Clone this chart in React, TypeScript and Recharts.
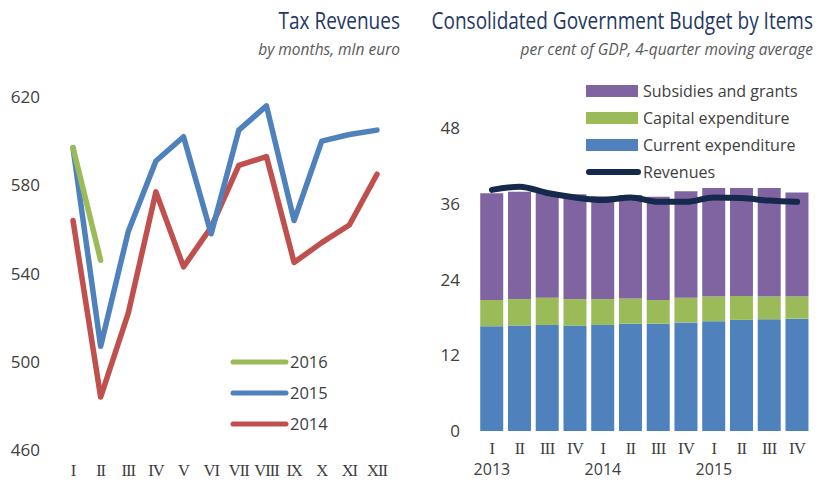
import { LineChart, Line, XAxis, YAxis, Legend, ComposedChart, Bar } from 'recharts';

// Tax revenues, mln euro, by month
const months = ['I', 'II', 'III', 'IV', 'V', 'VI', 'VII', 'VIII', 'IX', 'X', 'XI', 'XII'];
const tax2014 = [564, 484, 522, 577, 543, 561, 589, 593, 545, 554, 562, 585];
const tax2015 = [597, 507, 559, 591, 602, 558, 605, 616, 564, 600, 603, 605];
const tax2016 = [597, 546];
const taxTicks = [460, 500, 540, 580, 620];

// Consolidated budget, % of GDP, 4-quarter moving average
const quarters = ['I', 'II', 'III', 'IV', 'I', 'II', 'III', 'IV', 'I', 'II', 'III', 'IV'];
const years = ['2013', '', '', '', '2014', '', '', '', '2015', '', '', ''];
const currentExp = [16.6, 16.7, 16.8, 16.7, 16.8, 17.0, 17.0, 17.2, 17.4, 17.6, 17.7, 17.8];
const capitalExp = [4.15, 4.2, 4.3, 4.2, 4.1, 4.0, 3.75, 3.9, 3.9, 3.8, 3.6, 3.5];
const subsidies = [16.9, 17.0, 16.6, 16.6, 16.3, 16.4, 16.35, 16.9, 17.2, 17.1, 17.2, 16.5];
const revenues = [38.2, 38.7, 37.7, 37.0, 36.6, 37.0, 36.3, 36.3, 37.0, 36.9, 36.5, 36.3];
const budgetTicks = [0, 12, 24, 36, 48];

const taxData = months.map((m, i) => ({
    month: m,
    y2014: tax2014[i],
    y2015: tax2015[i],
    y2016: i < tax2016.length ? tax2016[i] : null,
}));

const budgetData = quarters.map((q, i) => ({
    q,
    year: years[i],
    current: currentExp[i],
    capital: capitalExp[i],
    subsidies: subsidies[i],
    revenues: revenues[i],
}));

const FONT = '"Open Sans", "Noto Sans", sans-serif';
const SERIF = '"Liberation Serif", serif';
const NAVY = '#1F3864';
const TXT = '#404040';
const RED = '#C0504D';
const BLUE = '#4F81BD';
const GREEN = '#9BBB59';
const PURPLE = '#8064A2';
const DARK = '#14294B';

const titleStyle = (right: number, top: number): React.CSSProperties => ({
    position: 'absolute',
    right,
    top,
    fontFamily: FONT,
    fontSize: 19,
    color: NAVY,
    whiteSpace: 'nowrap',
    lineHeight: '24px',
    transform: 'scale(1, 1.2)',
    transformOrigin: '100% 80%',
});

const subStyle = (right: number, top: number): React.CSSProperties => ({
    position: 'absolute',
    right,
    top,
    fontFamily: FONT,
    fontSize: 15.5,
    fontStyle: 'italic',
    color: '#595959',
    whiteSpace: 'nowrap',
    lineHeight: '18px',
});

const TaxLegend = () => {
    const items = [
        { name: '2016', color: GREEN },
        { name: '2015', color: BLUE },
        { name: '2014', color: RED },
    ];
    return (
        <div>
            {items.map((it) => (
                <div key={it.name} style={{ display: 'flex', alignItems: 'center', height: 31 }}>
                    <svg width={60} height={10}>
                        <line x1={3} y1={5} x2={56} y2={5} stroke={it.color} strokeWidth={5} strokeLinecap="round" />
                    </svg>
                    <span style={{ fontFamily: FONT, fontSize: 16.5, color: TXT }}>{it.name}</span>
                </div>
            ))}
        </div>
    );
};

const BudgetLegend = () => {
    const items = [
        { name: 'Subsidies and grants', color: PURPLE, line: false },
        { name: 'Capital expenditure', color: GREEN, line: false },
        { name: 'Current expenditure', color: BLUE, line: false },
        { name: 'Revenues', color: DARK, line: true },
    ];
    return (
        <div>
            {items.map((it) => (
                <div key={it.name} style={{ display: 'flex', alignItems: 'center', height: 27 }}>
                    <svg width={57} height={14}>
                        {it.line ? (
                            <line x1={3} y1={7} x2={52} y2={7} stroke={it.color} strokeWidth={6} strokeLinecap="round" />
                        ) : (
                            <rect x={0} y={1} width={52} height={12} fill={it.color} />
                        )}
                    </svg>
                    <span style={{ fontFamily: FONT, fontSize: 16, color: TXT }}>{it.name}</span>
                </div>
            ))}
        </div>
    );
};

const MonthTick = (props: any) => {
    const { x, y, payload } = props;
    return (
        <text x={x} y={y + 18} textAnchor="middle" fontFamily={SERIF} fontSize={16.5} letterSpacing={-1} fill={TXT}>
            {payload.value}
        </text>
    );
};

const YearTick = (props: any) => {
    const { x, y, payload, index } = props;
    return (
        <g>
            <text x={x} y={y + 15} textAnchor="middle" fontFamily={SERIF} fontSize={16.5} letterSpacing={-0.5} fill={TXT}>
                {payload.value}
            </text>
            <text x={x} y={y + 36} textAnchor="middle" fontFamily={FONT} fontSize={16} fill={TXT}>
                {budgetData[index] ? budgetData[index].year : ''}
            </text>
        </g>
    );
};

export default function App() {
    return (
        <div style={{ position: 'absolute', left: 0, top: 0, width: 826, height: 482, background: '#fff', overflow: 'hidden' }}>
            <div style={titleStyle(426, 10)}>Tax Revenues</div>
            <div style={subStyle(426, 40)}>by months, mln euro</div>
            <div style={titleStyle(13, 10)}>Consolidated Government Budget by Items</div>
            <div style={subStyle(13, 40)}>per cent of GDP, 4-quarter moving average</div>

            <div style={{ position: 'absolute', left: 0, top: 0 }}>
                <LineChart width={413} height={482} data={taxData} margin={{ top: 97, right: 36, left: 0, bottom: 0 }}>
                    <XAxis
                        dataKey="month"
                        scale="point"
                        padding={{ left: 0, right: 0 }}
                        axisLine={false}
                        tickLine={false}
                        height={32}
                        interval={0}
                        tick={<MonthTick />}
                    />
                    <YAxis
                        domain={[460, 620]}
                        ticks={taxTicks}
                        axisLine={false}
                        tickLine={false}
                        width={73}
                        tick={{ fill: TXT, fontSize: 17, fontFamily: FONT }}
                        dx={-25}
                    />
                    <Legend
                        layout="vertical"
                        align="center"
                        verticalAlign="middle"
                        content={<TaxLegend />}
                        wrapperStyle={{ left: 230, top: 346, width: 120, height: 95 }}
                    />
                    <Line dataKey="y2014" stroke={RED} strokeWidth={5.5} dot={false} strokeLinecap="round" strokeLinejoin="round" isAnimationActive={false} />
                    <Line dataKey="y2015" stroke={BLUE} strokeWidth={5.5} dot={false} strokeLinecap="round" strokeLinejoin="round" isAnimationActive={false} />
                    <Line dataKey="y2016" stroke={GREEN} strokeWidth={5.5} dot={false} strokeLinecap="round" strokeLinejoin="round" isAnimationActive={false} connectNulls={false} />
                </LineChart>
            </div>

            <div style={{ position: 'absolute', left: 413, top: 0 }}>
                <ComposedChart
                    width={413}
                    height={482}
                    data={budgetData}
                    margin={{ top: 128, right: 15, left: 0, bottom: 0 }}
                    barCategoryGap="8%"
                >
                    <XAxis dataKey="q" axisLine={false} tickLine={false} height={51} interval={0} tick={<YearTick />} />
                    <YAxis
                        domain={[0, 48]}
                        ticks={budgetTicks}
                        axisLine={false}
                        tickLine={false}
                        width={65}
                        tick={{ fill: TXT, fontSize: 17, fontFamily: FONT }}
                        dx={-10}
                    />
                    <Legend
                        layout="vertical"
                        align="center"
                        verticalAlign="middle"
                        content={<BudgetLegend />}
                        wrapperStyle={{ left: 173, top: 77, width: 240, height: 110 }}
                    />
                    <Bar dataKey="current" stackId="a" fill={BLUE} isAnimationActive={false} />
                    <Bar dataKey="capital" stackId="a" fill={GREEN} isAnimationActive={false} />
                    <Bar dataKey="subsidies" stackId="a" fill={PURPLE} isAnimationActive={false} />
                    <Line dataKey="revenues" type="monotone" stroke={DARK} strokeWidth={6} dot={false} strokeLinecap="round" isAnimationActive={false} />
                </ComposedChart>
            </div>
        </div>
    );
}
